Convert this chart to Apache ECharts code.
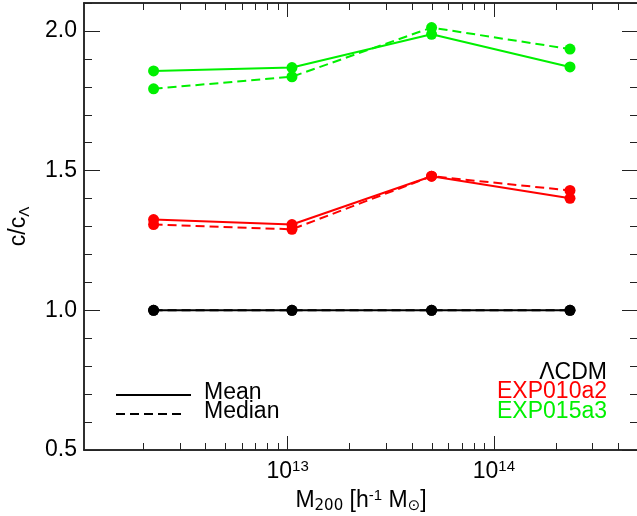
<!DOCTYPE html>
<html>
<head>
<meta charset="utf-8">
<script src="https://cdn.jsdelivr.net/npm/echarts@6/dist/echarts.min.js"></script>
<style>
  html, body { margin: 0; padding: 0; background: #fff; }
  #chart { width: 637px; height: 516px; }
</style>
</head>
<body>
<div id="chart"></div>
<script>
// mass bins (h^-1 Msun)
var massBins = [2.24e12, 1.05e13, 4.99e13, 2.34e14];

// c / c_LCDM, mean and median per bin
var lcdmMean = [1.0, 1.0, 1.0, 1.0];
var lcdmMedian = [1.0, 1.0, 1.0, 1.0];
var exp010Mean = [1.325, 1.307, 1.480, 1.401];
var exp010Median = [1.307, 1.290, 1.480, 1.429];
var exp015Mean = [1.857, 1.869, 1.988, 1.871];
var exp015Median = [1.793, 1.836, 2.012, 1.935];

// axis ranges and ticks
var xRange = [1.03e12, 5e14];
var xMajor = [1e13, 1e14];
var yRange = [0.5, 2.1];
var yMajor = [0.5, 1.0, 1.5, 2.0];
var yMinorStep = 0.1;

var FONT = "'Liberation Sans', Arial, sans-serif";
var FS = 23;
var GREEN = '#00f000';
var lg = Math.log10;

// minor ticks of a log axis: 2..9 x 10^n inside range
function logMinor(lo, hi) {
  var out = [];
  for (var n = Math.floor(lg(lo)); n <= Math.ceil(lg(hi)); n++) {
    for (var k = 2; k <= 9; k++) {
      var v = k * Math.pow(10, n);
      if (v >= lo && v <= hi) out.push(lg(v));
    }
  }
  return out;
}
function linMinor(lo, hi, step, majors) {
  var out = [];
  var cnt = Math.round((hi - lo) / step);
  for (var i = 0; i <= cnt; i++) {
    var v = +(lo + i * step).toFixed(6);
    if (majors.indexOf(v) < 0) out.push(v);
  }
  return out;
}

var xMin = lg(xRange[0]), xMax = lg(xRange[1]);
var xMajorLog = xMajor.map(lg);
var xMinorLog = logMinor(xRange[0], xRange[1]);
var yMinor = linMinor(yRange[0], yRange[1], yMinorStep, yMajor);

function pts(vals) {
  return vals.map(function (v, i) { return [lg(massBins[i]), v]; });
}

var axisLine = { show: true, onZero: false, lineStyle: { color: '#222', width: 1.5 } };

function xAxisDef(pos, ticks, len, labels) {
  return {
    type: 'value', position: pos, min: xMin, max: xMax,
    axisLine: axisLine,
    splitLine: { show: false },
    axisTick: { show: true, inside: true, length: len, customValues: ticks,
                lineStyle: { color: '#222', width: 1 } },
    axisLabel: labels ? {
      show: true, customValues: xMajorLog, margin: 9,
      formatter: function (v) { return '{b|10}{s|' + Math.round(v) + '}'; },
      rich: {
        b: { fontSize: FS, fontFamily: FONT, color: '#000', lineHeight: 24, verticalAlign: 'bottom' },
        s: { fontSize: 15, fontFamily: FONT, color: '#000', lineHeight: 15, verticalAlign: 'top' }
      }
    } : { show: false }
  };
}
function yAxisDef(pos, ticks, len, labels) {
  return {
    type: 'value', position: pos, min: yRange[0], max: yRange[1],
    axisLine: axisLine,
    splitLine: { show: false },
    axisTick: { show: true, inside: true, length: len, customValues: ticks,
                lineStyle: { color: '#222', width: 1 } },
    axisLabel: labels ? {
      show: true, customValues: yMajor, margin: 7,
      fontSize: FS, fontFamily: FONT, color: '#000',
      formatter: function (v) { return v.toFixed(1); }
    } : { show: false }
  };
}

var xAxes = [
  xAxisDef('bottom', xMajorLog, 14, true),
  xAxisDef('bottom', xMinorLog, 7, false),
  xAxisDef('top', xMajorLog, 14, false),
  xAxisDef('top', xMinorLog, 7, false)
];
xAxes[0].name = '{t|M}{d|200}{t| [h}{u|-1}{t| M}{d|⊙}{t|]}';
xAxes[0].nameLocation = 'middle';
xAxes[0].nameGap = 36;
xAxes[0].nameTextStyle = {
  rich: {
    t: { fontSize: FS, fontFamily: FONT, color: '#000', lineHeight: 26, verticalAlign: 'middle' },
    d: { fontSize: 15, fontFamily: "'DejaVu Sans', " + FONT, color: '#000', lineHeight: 14, verticalAlign: 'bottom' },
    u: { fontSize: 15, fontFamily: FONT, color: '#000', lineHeight: 14, verticalAlign: 'top' }
  }
};

var yAxes = [
  yAxisDef('left', yMajor, 16, true),
  yAxisDef('left', yMinor, 8, false),
  yAxisDef('right', yMajor, 16, false),
  yAxisDef('right', yMinor, 8, false)
];
yAxes[0].name = '{t|c/c}{d|Λ}';
yAxes[0].nameLocation = 'middle';
yAxes[0].nameRotate = 90;
yAxes[0].nameGap = 52;
yAxes[0].nameTextStyle = {
  rich: {
    t: { fontSize: FS, fontFamily: FONT, color: '#000', lineHeight: 26, verticalAlign: 'middle' },
    d: { fontSize: 15, fontFamily: FONT, color: '#000', lineHeight: 14, verticalAlign: 'bottom' }
  }
};

function line(name, vals, color, dashed, z) {
  return {
    name: name, type: 'line', data: pts(vals),
    xAxisIndex: 0, yAxisIndex: 0,
    symbol: 'circle', symbolSize: 11, showSymbol: true,
    itemStyle: { color: color },
    lineStyle: { color: color, width: 2, type: dashed ? [9, 5] : 'solid' },
    animation: false, z: z
  };
}

var chart = echarts.init(document.getElementById('chart'));
chart.setOption({
  animation: false,
  backgroundColor: '#fff',
  grid: { left: 84, top: 3, width: 554, height: 447, outerBoundsMode: 'none' },
  xAxis: xAxes,
  yAxis: yAxes,
  series: [
    line('LCDM mean', lcdmMean, '#000', false, 3),
    line('LCDM median', lcdmMedian, '#000', true, 3),
    line('EXP010a2 mean', exp010Mean, '#ff0000', false, 4),
    line('EXP010a2 median', exp010Median, '#ff0000', true, 4),
    line('EXP015a3 mean', exp015Mean, GREEN, false, 5),
    line('EXP015a3 median', exp015Median, GREEN, true, 5)
  ],
  graphic: [
    { type: 'line', shape: { x1: 116, y1: 395, x2: 191, y2: 395 },
      style: { stroke: '#000', lineWidth: 2 } },
    { type: 'line', shape: { x1: 116, y1: 414, x2: 186, y2: 414 },
      style: { stroke: '#000', lineWidth: 2, lineDash: [9, 5] } },
    { type: 'text', x: 204, y: 393,
      style: { text: 'Mean', fill: '#000', font: FS + 'px ' + FONT, verticalAlign: 'middle' } },
    { type: 'text', x: 204, y: 412,
      style: { text: 'Median', fill: '#000', font: FS + 'px ' + FONT, verticalAlign: 'middle' } },
    { type: 'text', x: 607, y: 373,
      style: { text: 'ΛCDM', fill: '#000', font: FS + 'px ' + FONT, align: 'right', verticalAlign: 'middle' } },
    { type: 'text', x: 607, y: 392,
      style: { text: 'EXP010a2', fill: '#ff0000', font: FS + 'px ' + FONT, align: 'right', verticalAlign: 'middle' } },
    { type: 'text', x: 607, y: 412,
      style: { text: 'EXP015a3', fill: GREEN, font: FS + 'px ' + FONT, align: 'right', verticalAlign: 'middle' } }
  ]
});
</script>
</body>
</html>
